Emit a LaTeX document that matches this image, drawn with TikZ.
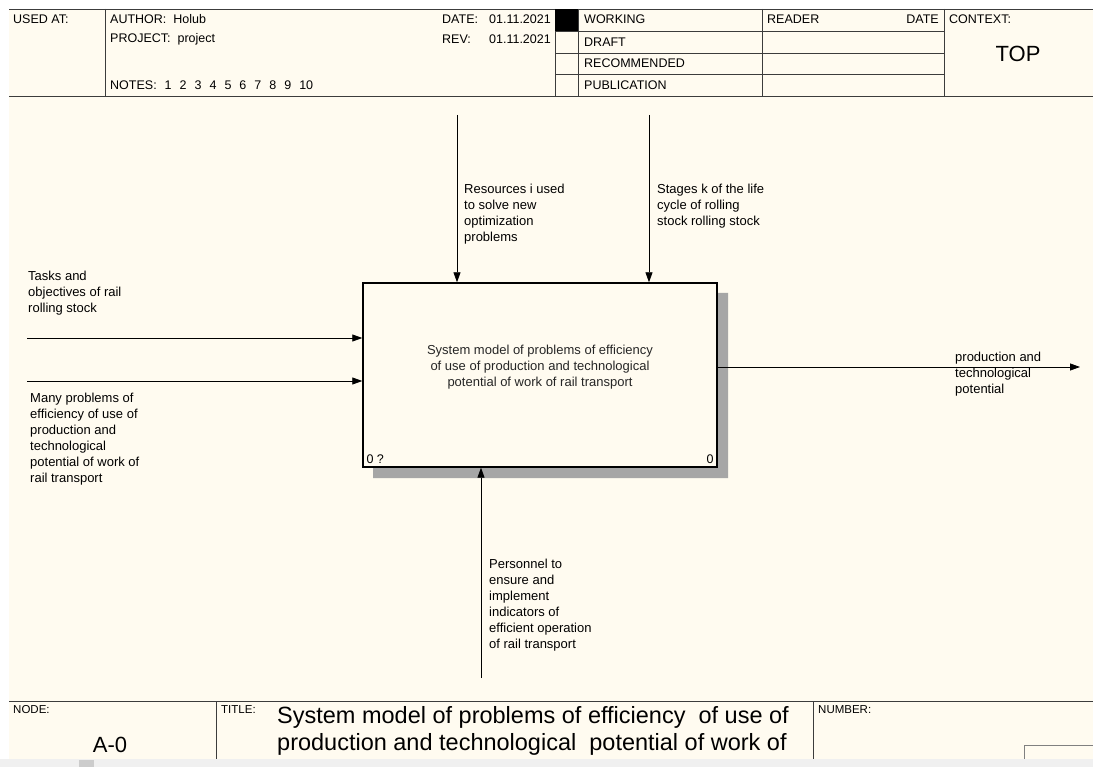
\documentclass[tikz,border=0pt]{standalone}
\usepackage{fontspec}
\setmainfont{Liberation Sans}
\usetikzlibrary{positioning,arrows.meta}
\definecolor{paper}{RGB}{255,251,240}
\definecolor{rule}{RGB}{60,60,60}
\definecolor{strip}{RGB}{240,240,240}

\begin{document}
\begin{tikzpicture}[x=1pt, y=-1pt,
    every node/.style={inner sep=0pt, font=\fontsize{13}{16}\selectfont},
    form/.style={draw=rule, line width=0.9pt},
    hdr/.style={anchor=west, font=\fontsize{12.5}{14}\selectfont},
    tag/.style={anchor=north west, font=\fontsize{11.5}{12}\selectfont},
    lbl/.style={anchor=north west, align=left},
    arr/.style={-{Triangle[length=10pt,width=7pt]}, line width=0.8pt},
    process/.style={draw, line width=1.4pt, fill=paper, minimum width=354pt, minimum height=184pt}]

    \useasboundingbox (0,0) rectangle (1093,767);
    \fill[white] (0,0) rectangle (1093,767);
    \fill[paper] (9,9) rectangle (1093,759);
    \fill[strip] (0,759) rectangle (1093,767);
    \fill[black!20] (79,760) rectangle (94,767);

    % header form
    \draw[form] (9,9) -- (1093,9) (9,96) -- (1093,96);
    \foreach \x in {105,555,578,762,944} \draw[form] (\x,9) -- (\x,96);
    \foreach \y in {31,53,74} \draw[form] (555,\y) -- (944,\y);
    \fill (555,9) rectangle (578,31);

    \node[hdr] (usedat) at (13,19) {USED AT:};
    \node[hdr] (author) at (110,19) {AUTHOR:\ \ Holub};
    \node[hdr] (project) at (110,39) {PROJECT:\ \ project};
    \node[hdr] (notes) at (110,85) {NOTES:\hspace{8pt}1\hspace{8pt}2\hspace{8pt}3\hspace{8pt}4\hspace{8pt}5\hspace{8pt}6\hspace{8pt}7\hspace{8pt}8\hspace{8pt}9\hspace{8pt}10};
    \node[hdr] (datetag) at (442,19) {DATE:};
    \node[hdr, anchor=east] (dateval) at (551,19) {01.11.2021};
    \node[hdr] (revtag) at (442,39) {REV:};
    \node[hdr, anchor=east] (revval) at (551,39) {01.11.2021};
    \node[hdr] (working) at (584,19) {WORKING};
    \node[hdr] (draft) at (584,42) {DRAFT};
    \node[hdr] (recommended) at (584,63) {RECOMMENDED};
    \node[hdr] (publication) at (584,85) {PUBLICATION};
    \node[hdr] (reader) at (767,19) {READER};
    \node[hdr, anchor=east] (readerdate) at (939,19) {DATE};
    \node[hdr] (context) at (949,19) {CONTEXT:};
    \node[font=\fontsize{22}{26}\selectfont] (top) at (1018,54) {TOP};

    % activity box
    \fill[black!35] (717,293) rectangle (728,478) (373,467) rectangle (728,478);
    \node[process] (proc) at (540,375) {};
    \node[align=center, text=black!85] (proctext) at ([yshift=8pt]proc.center) {System model of problems of efficiency\\ of use of production and technological\\ potential of work of rail transport};
    \node[anchor=base west, font=\fontsize{12.5}{14}\selectfont] (procnum) at ([xshift=4pt,yshift=4pt]proc.south west) {0 ?};
    \node[anchor=base east, font=\fontsize{12.5}{14}\selectfont] (procnode) at ([xshift=-4pt,yshift=4pt]proc.south east) {0};

    \coordinate (in1) at (27,338);
    \coordinate (in2) at (27,381);
    \coordinate (ctl1) at (457,115);
    \coordinate (ctl2) at (649,115);
    \coordinate (mech) at (481,678);
    \coordinate (out) at (1080,367);

    \draw[arr] (in1) -- (in1 -| proc.west);
    \draw[arr] (in2) -- (in2 -| proc.west);
    \draw[arr] (ctl1) -- (ctl1 |- proc.north);
    \draw[arr] (ctl2) -- (ctl2 |- proc.north);
    \draw[arr] (mech) -- (mech |- proc.south);
    \draw[arr] (out -| proc.east) -- (out);

    \node[lbl] (intasks) at (28,271) {Tasks and\\objectives of rail\\rolling stock};
    \node[lbl] (inproblems) at (30,393) {Many problems of\\efficiency of use of\\production and\\technological\\potential of work of\\rail transport};
    \node[lbl] (ctlres) at (464,184) {Resources i used\\to solve new\\optimization\\problems};
    \node[lbl] (ctlstages) at (657,184) {Stages k of the life\\cycle of rolling\\stock rolling stock};
    \node[lbl] (mechstaff) at (489,559) {Personnel to\\ensure and\\implement\\indicators of\\efficient operation\\of rail transport};
    \node[lbl] (outpot) at (955,352) {production and\\technological\\potential};

    % footer form
    \draw[form] (9,701) -- (1093,701);
    \draw[form] (216,701) -- (216,759) (813,701) -- (813,759);
    \draw[form, draw=black!50] (1093,745) -- (1024,745) -- (1024,759);
    \node[tag] (nodetag) at (13,705) {NODE:};
    \node[tag] (titletag) at (221,705) {TITLE:};
    \node[tag] (numtag) at (818,705) {NUMBER:};
    \node[font=\fontsize{22}{26}\selectfont] (nodeid) at (110,745) {A-0};
    \node[anchor=north west, align=left, font=\fontsize{23.5}{27}\selectfont] (title) at (277,706) {System model of problems of efficiency\ \ of use of\\production and technological\ \ potential of work of};
\end{tikzpicture}
\end{document}
